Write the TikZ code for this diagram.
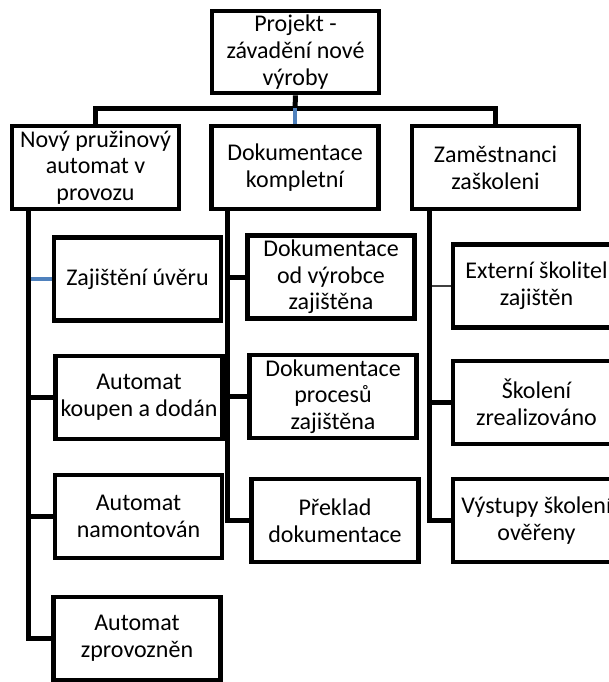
\documentclass[tikz,border=0pt]{standalone}
\usepackage{fontspec}
\setmainfont{Carlito}
\usetikzlibrary{backgrounds}
\definecolor{accblue}{HTML}{4F81BD}
\definecolor{thingray}{HTML}{404040}
\begin{document}
\begin{tikzpicture}[x=1pt,y=1pt,
  box/.style={draw=black, fill=white, line width=4.8pt, line join=miter,
    minimum width=167pt, minimum height=83pt, inner sep=0pt, align=center,
    font={\fontsize{24}{26.7}\selectfont}},
  conn/.style={draw=black, line width=5pt, line join=miter},
  blueconn/.style={draw=accblue, line width=4.5pt},
  thinconn/.style={draw=thingray, line width=1.5pt}]
\useasboundingbox (0,0) rectangle (609,-682);

% top
\node[box, minimum height=82pt] (top) at (295.5,-52) {Projekt -\\závadění nové\\výroby};
% level 2
\node[box] (b1) at (95.5,-167.5) {Nový pružinový\\automat v\\provozu};
\node[box] (b2) at (295,-167.5) {Dokumentace\\kompletní};
\node[box] (b3) at (495.5,-167.5) {Zaměstnanci\\zaškoleni};
% children 1
\node[box] (c11) at (137.5,-279) {Zajištění úvěru};
\node[box] (c12) at (139,-397.5) {Automat\\koupen a dodán};
\node[box] (c13) at (138.5,-516.5) {Automat\\namontován};
\node[box] (c14) at (137,-638.5) {Automat\\zprovozněn};
% children 2
\node[box] (c21) at (331,-277) {Dokumentace\\od výrobce\\zajištěna};
\node[box] (c22) at (333,-396.5) {Dokumentace\\procesů\\zajištěna};
\node[box] (c23) at (335,-520.5) {Překlad\\dokumentace};
% children 3
\node[box] (c31) at (536.5,-286) {Externí školitel\\zajištěn};
\node[box] (c32) at (536.5,-402.5) {Školení\\zrealizováno};
\node[box] (c33) at (536.5,-520.5) {Výstupy školení\\ověřeny};

\coordinate (bus) at (295,-108.5);
\coordinate (s1) at (28,-209);
\coordinate (s2) at (227.5,-209);
\coordinate (s3) at (429,-209);

\begin{pgfonlayer}{background}
\fill[white] (0,0) rectangle (609,-682);
\draw[conn] (b1.north) |- (bus) -| (b3.north);
\draw[conn] (top.south) -- (bus);
\draw[blueconn] (bus) -- (b2.north);

\draw[blueconn] (s1 |- c11.west) -- (c11.west);
\draw[conn] (s1 |- c12.west) -- (c12.west);
\draw[conn] (s1 |- c13.west) -- (c13.west);
\draw[conn] (s1) |- (c14.west);

\draw[conn] (s2 |- c21.west) -- (c21.west);
\draw[conn] (s2 |- c22.west) -- (c22.west);
\draw[conn] (s2) |- (c23.west);

\draw[thinconn] (s3 |- c31.west) -- (c31.west);
\draw[conn] (s3 |- c32.west) -- (c32.west);
\draw[conn] (s3) |- (c33.west);
\end{pgfonlayer}
\end{tikzpicture}
\end{document}
